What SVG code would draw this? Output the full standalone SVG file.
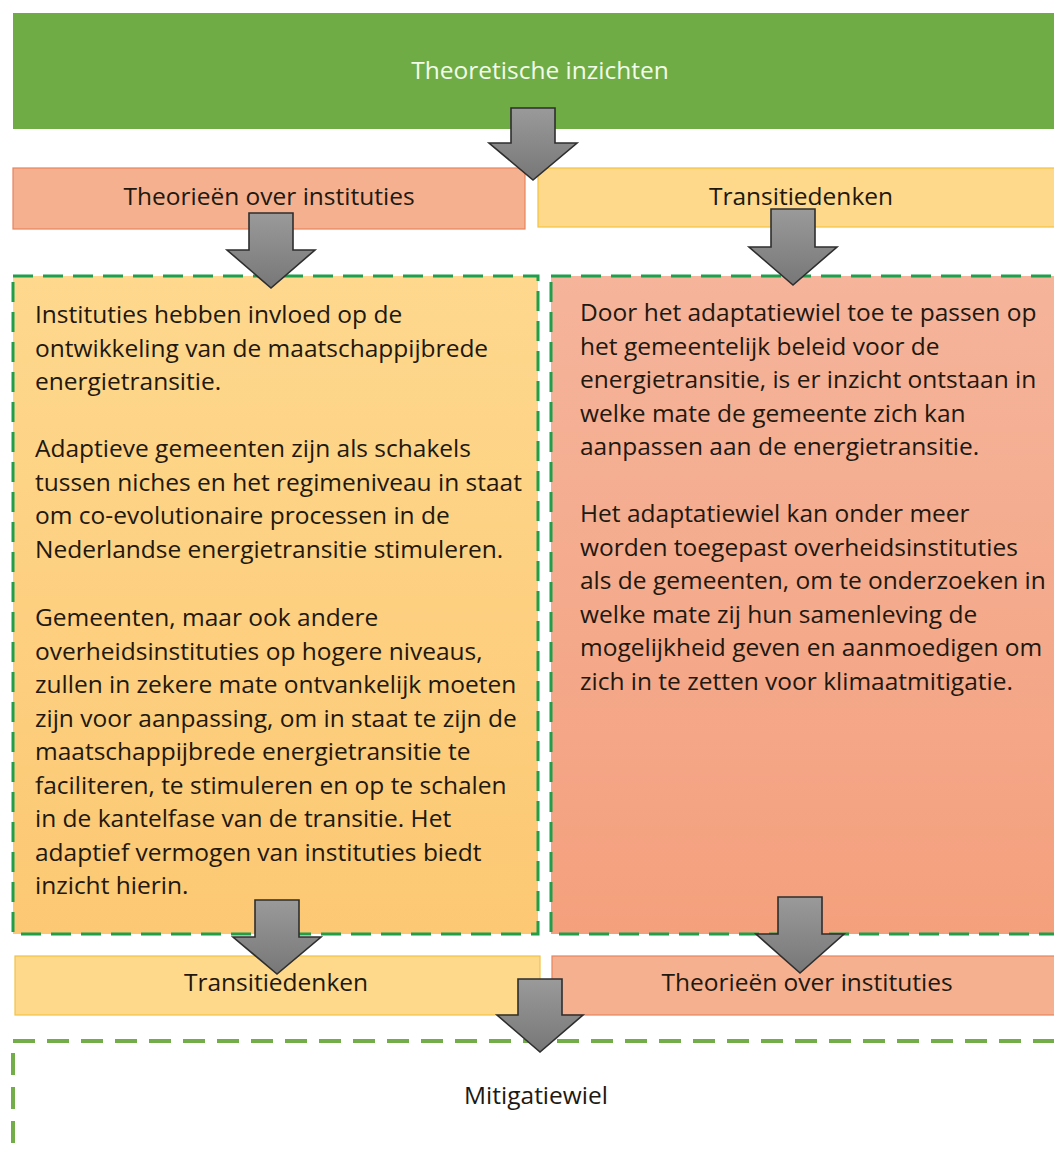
<svg xmlns="http://www.w3.org/2000/svg" width="1054" height="1149" viewBox="0 0 1054 1149">
  <defs>
    <linearGradient id="gArrow" x1="0" y1="0" x2="0" y2="1">
      <stop offset="0" stop-color="#9a9a9a"/>
      <stop offset="1" stop-color="#777777"/>
    </linearGradient>
    <linearGradient id="gLeft" x1="0" y1="0" x2="0" y2="1">
      <stop offset="0" stop-color="#fed88e"/>
      <stop offset="1" stop-color="#fcc873"/>
    </linearGradient>
    <linearGradient id="gRight" x1="0" y1="0" x2="0" y2="1">
      <stop offset="0" stop-color="#f5b49b"/>
      <stop offset="1" stop-color="#f4a07d"/>
    </linearGradient>
    <style>
      text { font-family: "Open Sans", "Liberation Sans", sans-serif; font-size: 24.5px; fill: #21180f; }
      .title { fill: #f3fbe9; text-anchor: middle; }
      .lbl { text-anchor: middle; }
      .pink { fill: #f5b08f; stroke: #e8845c; stroke-width: 1.2; }
      .yellow { fill: #ffd98b; stroke: #f4c244; stroke-width: 1.2; }
      .dashTop { stroke: #1f9e4c; stroke-width: 3; stroke-dasharray: 20 10; }
      .dashBot { fill: #ffffff; stroke: #72ad4a; stroke-width: 4; stroke-dasharray: 22 12; }
      .arrow { fill: url(#gArrow); stroke: #2e2e2e; stroke-width: 1.6; stroke-linejoin: miter; }
    </style>
  </defs>
  <rect width="1054" height="1149" fill="#ffffff"/>

  <g id="node-theoretische-inzichten">
    <rect x="13" y="13" width="1045" height="116" fill="#6fac46"/>
    <text class="title" x="540" y="79">Theoretische inzichten</text>
  </g>

  <g id="node-theorieen-top">
    <rect class="pink" x="13" y="168" width="512" height="61"/>
    <text class="lbl" x="269" y="205">Theorieën over instituties</text>
  </g>

  <g id="node-transitiedenken-top">
    <rect class="yellow" x="538" y="168" width="520" height="59"/>
    <text class="lbl" x="801" y="205">Transitiedenken</text>
  </g>

  <g id="node-left-content">
    <rect x="13" y="276" width="525" height="658" fill="url(#gLeft)"/>
    <rect class="dashTop" x="13" y="276" width="525" height="658" fill="none"/>
    <text x="35" y="323">Instituties hebben invloed op de</text>
    <text x="35" y="356.5">ontwikkeling van de maatschappijbrede</text>
    <text x="35" y="390">energietransitie.</text>
    <text x="35" y="457">Adaptieve gemeenten zijn als schakels</text>
    <text x="35" y="490.5">tussen niches en het regimeniveau in staat</text>
    <text x="35" y="524">om co-evolutionaire processen in de</text>
    <text x="35" y="557.5">Nederlandse energietransitie stimuleren.</text>
    <text x="35" y="626">Gemeenten, maar ook andere</text>
    <text x="35" y="659.5">overheidsinstituties op hogere niveaus,</text>
    <text x="35" y="693">zullen in zekere mate ontvankelijk moeten</text>
    <text x="35" y="726.5">zijn voor aanpassing, om in staat te zijn de</text>
    <text x="35" y="760">maatschappijbrede energietransitie te</text>
    <text x="35" y="793.5">faciliteren, te stimuleren en op te schalen</text>
    <text x="35" y="827">in de kantelfase van de transitie. Het</text>
    <text x="35" y="860.5">adaptief vermogen van instituties biedt</text>
    <text x="35" y="894">inzicht hierin.</text>
  </g>

  <g id="node-right-content">
    <rect x="551" y="276" width="510" height="658" fill="url(#gRight)"/>
    <rect class="dashTop" x="551" y="276" width="510" height="658" fill="none"/>
    <text x="580" y="321">Door het adaptatiewiel toe te passen op</text>
    <text x="580" y="354.5">het gemeentelijk beleid voor de</text>
    <text x="580" y="388">energietransitie, is er inzicht ontstaan in</text>
    <text x="580" y="421.5">welke mate de gemeente zich kan</text>
    <text x="580" y="455">aanpassen aan de energietransitie.</text>
    <text x="580" y="522">Het adaptatiewiel kan onder meer</text>
    <text x="580" y="555.5">worden toegepast overheidsinstituties</text>
    <text x="580" y="589">als de gemeenten, om te onderzoeken in</text>
    <text x="580" y="622.5">welke mate zij hun samenleving de</text>
    <text x="580" y="656">mogelijkheid geven en aanmoedigen om</text>
    <text x="580" y="689.5">zich in te zetten voor klimaatmitigatie.</text>
  </g>

  <g id="node-transitiedenken-bottom">
    <rect class="yellow" x="15" y="956" width="525" height="59"/>
    <text class="lbl" x="276" y="991">Transitiedenken</text>
  </g>

  <g id="node-theorieen-bottom">
    <rect class="pink" x="552" y="956" width="506" height="59"/>
    <text class="lbl" x="807" y="991">Theorieën over instituties</text>
  </g>

  <g id="node-mitigatiewiel">
    <rect class="dashBot" x="13" y="1041" width="1060" height="130"/>
    <text class="lbl" x="536" y="1104">Mitigatiewiel</text>
  </g>

  <g id="connectors">
    <path class="arrow" d="M511,108 H555 V143 H577 L533,180 L489,143 H511 Z"/>
    <path class="arrow" d="M249,213 H293 V250 H315 L271,288 L227,250 H249 Z"/>
    <path class="arrow" d="M771,209 H815 V247 H837 L793,285 L749,247 H771 Z"/>
    <path class="arrow" d="M255,900 H299 V937 H321 L277,974 L233,937 H255 Z"/>
    <path class="arrow" d="M778,897 H822 V934 H844 L800,973 L756,934 H778 Z"/>
    <path class="arrow" d="M518,979 H562 V1015 H583 L540,1052 L497,1015 H518 Z"/>
  </g>
</svg>
